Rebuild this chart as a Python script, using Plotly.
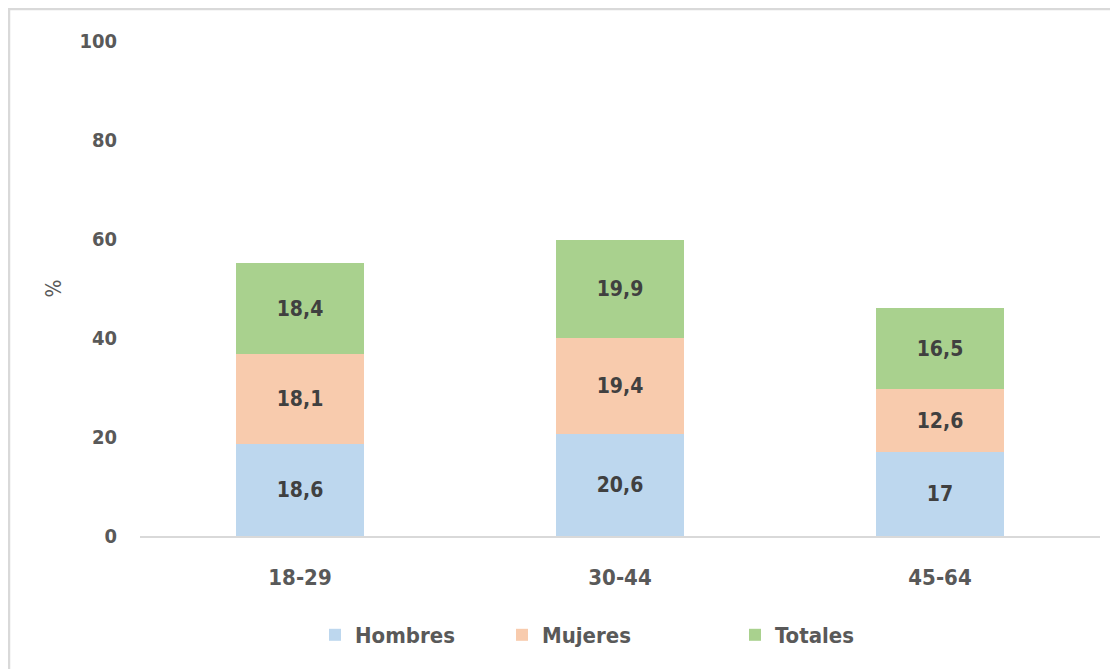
import plotly.graph_objects as go

categories = ["18-29", "30-44", "45-64"]
hombres = [18.6, 20.6, 17]
mujeres = [18.1, 19.4, 12.6]
totales = [18.4, 19.9, 16.5]
y_ticks = [0, 20, 40, 60, 80, 100]

def fmt(v):
    return ("%g" % v).replace(".", ",")

FONT = "DejaVu Sans Condensed, Lato, sans-serif"
series = [
    ("Hombres", hombres, "#BDD7EE", "legend"),
    ("Mujeres", mujeres, "#F8CBAD", "legend2"),
    ("Totales", totales, "#A9D18E", "legend3"),
]

fig = go.Figure()
for name, vals, color, lg in series:
    fig.add_trace(go.Bar(
        x=categories, y=vals, name=name, legend=lg, showlegend=True,
        marker=dict(color=color, line=dict(width=0)),
        text=[fmt(v) for v in vals], textposition="inside",
        insidetextanchor="middle",
        textfont=dict(family=FONT, size=21, color="#404040", weight="bold"),
        width=0.4,
    ))

W, H = 1118, 669
L, T, R, B = 132, 33, 26, 141
pw, ph = W - L - R, H - T - B

legend_sq = {"legend": 330, "legend2": 517, "legend3": 750}
leg_y = -(635 - 8 - T - ph) / ph

def legend_cfg(px):
    return dict(
        orientation="h", x=(px - 8 - 15 - L) / pw, xanchor="left",
        y=leg_y, yanchor="middle",
        font=dict(family=FONT, size=22, color="#595959", weight="bold"),
        itemwidth=30, bgcolor="rgba(0,0,0,0)",
    )

fig.update_layout(
    barmode="stack",
    showlegend=True,
    width=W, height=H,
    paper_bgcolor="white", plot_bgcolor="white",
    margin=dict(l=L, r=R, t=T, b=B),
    font=dict(family=FONT, color="#595959"),
    xaxis=dict(
        showline=True, linecolor="#D9D9D9", linewidth=1.5,
        ticks="", tickfont=dict(family=FONT, size=22, color="#595959", weight="bold"),
        showgrid=False, zeroline=False, ticklabelstandoff=21,
    ),
    yaxis=dict(
        range=[0, 100], tickvals=y_ticks,
        showgrid=False, zeroline=False, showline=False,
        tickfont=dict(family=FONT, size=20, color="#595959", weight="bold"),
        ticklabelstandoff=22,
        title=dict(text="%", font=dict(family=FONT, size=21, color="#595959"), standoff=12),
    ),
    legend=legend_cfg(legend_sq["legend"]),
    legend2=legend_cfg(legend_sq["legend2"]),
    legend3=legend_cfg(legend_sq["legend3"]),
)
# top and left border lines (figure edges)
fig.add_shape(type="line", xref="paper", yref="paper",
              x0=-L / pw, x1=1 + R / pw, y0=1 + (T - 1) / ph, y1=1 + (T - 1) / ph,
              line=dict(color="#D9D9D9", width=2.5))
fig.add_shape(type="line", xref="paper", yref="paper",
              x0=-(L - 1) / pw, x1=-(L - 1) / pw, y0=-B / ph, y1=1 + T / ph,
              line=dict(color="#D9D9D9", width=2.5))

fig.write_html("out.html")
